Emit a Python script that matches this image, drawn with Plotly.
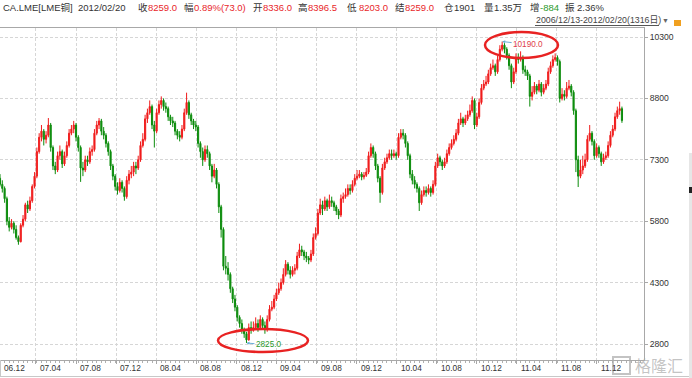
import plotly.graph_objects as go
import pandas as pd

# ---------------- data (weekly OHLC) ----------------
start_date = "2006-12-13"
opens = [
    6850,6700,6600,6350,5800,5650,5750,5600,5400,5300,
    5700,5850,6200,6100,6300,6650,6900,7500,7850,8000,
    7800,7900,8150,7600,7150,7050,7400,7500,7200,7400,
    7650,7950,8050,8150,7850,7600,7100,7050,7300,7250,
    7500,7550,7950,8150,8250,8000,7900,7700,7500,7150,
    6900,6650,6550,6750,6600,6400,6800,6950,7000,7150,
    7100,7300,7650,7800,8300,8450,8600,8150,8000,8450,
    8650,8750,8600,8550,8350,8250,8200,8000,7900,7850,
    8050,8450,8700,8400,8250,8150,8100,7700,7500,7300,
    7550,7450,7150,6900,7050,6700,6150,5600,4700,4650,
    4500,4150,3900,3700,3450,3300,3150,3050,2900,3200,
    3150,3200,3300,3200,3400,3250,3150,3400,3650,3700,
    3900,4050,4150,4300,4500,4750,4600,4500,4600,4650,
    4950,5100,5050,4950,4900,4850,5000,5400,5500,6000,
    6200,6100,6300,6150,6300,6250,6150,6050,5950,6350,
    6400,6450,6600,6550,6700,6850,6900,6950,6880,6920,
    7000,7400,7600,7450,7150,6850,6500,7100,7250,7350,
    7450,7400,7450,7400,7850,7950,7900,7700,7400,6950,
    6800,6700,6600,6250,6450,6550,6500,6600,6500,6700,
    7150,7350,7250,7150,7250,7450,7600,7700,7800,7950,
    8200,8300,8200,8300,8400,8500,8750,8150,8350,8700,
    9050,9150,9200,9400,9550,9600,9450,9750,10000,10100,
    10000,9850,9600,9200,9450,9800,9750,9800,9500,9450,
    9350,8850,8950,9100,9000,9150,8950,9050,9150,9450,
    9600,9750,9800,9700,8800,8900,8850,9050,9100,8950,
    8500,7300,6900,7050,7150,7300,7800,7950,7750,7400,
    7600,7450,7250,7350,7400,7650,7900,8050,8350,8500,
    8550,
]
highs = [
    6950,6800,6650,6400,5900,5850,5800,5700,5450,5750,
    5950,6250,6300,6400,6700,7000,7600,7950,8150,8050,
    8000,8320,8200,7650,7250,7500,7650,7550,7500,7750,
    8050,8150,8250,8200,7900,7650,7250,7400,7400,7600,
    7650,8050,8250,8320,8300,8100,7950,7750,7550,7200,
    6950,6750,6850,6800,6650,6900,7050,7150,7250,7250,
    7400,7750,7950,8400,8550,8750,8650,8250,8550,8750,
    8850,8800,8700,8600,8400,8350,8250,8050,8000,8150,
    8550,8940,8750,8450,8300,8250,8150,7750,7600,7650,
    7650,7500,7200,7200,7100,6750,6200,5650,4950,4800,
    4550,4200,4000,3750,3500,3400,3200,3100,3300,3350,
    3350,3450,3400,3500,3450,3350,3500,3750,3850,4000,
    4150,4300,4400,4650,4850,4800,4700,4700,4750,5050,
    5250,5200,5100,5050,4950,5100,5500,5650,6100,6350,
    6300,6400,6350,6450,6400,6300,6200,6100,6450,6500,
    6600,6700,6700,6800,6950,7050,7050,7000,7000,7100,
    7500,7700,7650,7500,7200,6900,7200,7350,7450,7550,
    7550,7550,7500,7950,8050,8050,7950,7750,7450,7050,
    6900,6750,6650,6550,6650,6650,6700,6650,6800,7250,
    7450,7400,7300,7350,7550,7700,7800,7900,8050,8300,
    8450,8350,8400,8500,8650,8850,8800,8450,8800,9150,
    9250,9350,9500,9650,9750,9650,9850,10100,10190,10150,
    10050,9900,9650,9550,9900,9900,9950,9850,9600,9500,
    9400,9100,9200,9150,9250,9200,9150,9250,9550,9700,
    9850,9900,9850,9750,9050,9000,9200,9250,9150,9000,
    8550,7400,7300,7400,7450,7900,8150,8000,7800,7700,
    7650,7500,7450,7500,7750,8000,8150,8450,8600,8720,
    8600,
]
lows = [
    6650,6500,6250,5700,5550,5600,5500,5350,5225,5280,
    5650,5800,6000,6050,6250,6600,6850,7450,7750,7650,
    7700,7850,7500,7050,6950,7000,7300,7100,7150,7350,
    7600,7900,7950,7750,7500,6760,6900,7000,7150,7200,
    7400,7500,7900,8050,7900,7800,7600,7400,7050,6800,
    6550,6450,6500,6500,6300,6350,6700,6850,6900,6950,
    7050,7250,7600,7750,8200,8400,8050,7600,7950,8400,
    8550,8500,8450,8250,8150,8100,7900,7800,7750,7800,
    8000,8400,8300,8150,8050,8000,7600,7350,7150,7250,
    7350,7050,6750,6850,6600,6000,5400,4600,4500,4350,
    4050,3800,3600,3350,3200,3050,2950,2825,2880,3050,
    3100,3150,3100,3150,3150,3050,3100,3350,3600,3650,
    3850,4000,4100,4250,4450,4500,4400,4450,4500,4600,
    4900,4950,4850,4800,4750,4800,4950,5350,5450,5950,
    5950,6050,6050,6100,6150,6050,5950,5850,5900,6250,
    6350,6400,6450,6500,6650,6800,6850,6800,6820,6880,
    6950,7350,7350,7050,6750,6250,6450,7050,7200,7300,
    7300,7350,7300,7350,7800,7800,7600,7300,6850,6700,
    6600,6500,6050,6200,6400,6400,6450,6400,6450,6650,
    7100,7150,7050,7100,7200,7400,7550,7650,7750,7900,
    8150,8100,8150,8250,8350,8450,8050,8100,8300,8650,
    9000,9100,9150,9350,9500,9350,9400,9700,9950,9900,
    9750,9500,9050,9150,9400,9650,9700,9400,9350,9250,
    8600,8750,8900,8900,8950,8850,8900,9000,9100,9400,
    9550,9700,9600,8700,8750,8750,8800,9000,8850,8400,
    7000,6635,6850,6950,7100,7250,7750,7650,7300,7350,
    7350,7150,7200,7300,7350,7600,7850,8000,8300,8400,
    8203,
]
closes = [
    6700,6600,6350,5800,5650,5750,5600,5400,5300,5700,
    5850,6200,6100,6300,6650,6900,7500,7850,8000,7800,
    7900,8150,7600,7150,7050,7400,7500,7200,7400,7650,
    7950,8050,8150,7850,7600,7100,7050,7300,7250,7500,
    7550,7950,8150,8250,8000,7900,7700,7500,7150,6900,
    6650,6550,6750,6600,6400,6800,6950,7000,7150,7100,
    7300,7650,7800,8300,8450,8600,8150,8000,8450,8650,
    8750,8600,8550,8350,8250,8200,8000,7900,7850,8050,
    8450,8700,8400,8250,8150,8100,7700,7500,7300,7550,
    7450,7150,6900,7050,6700,6150,5600,4700,4650,4500,
    4150,3900,3700,3450,3300,3150,3050,2900,3200,3150,
    3200,3300,3200,3400,3250,3150,3400,3650,3700,3900,
    4050,4150,4300,4500,4750,4600,4500,4600,4650,4950,
    5100,5050,4950,4900,4850,5000,5400,5500,6000,6200,
    6100,6300,6150,6300,6250,6150,6050,5950,6350,6400,
    6450,6600,6550,6700,6850,6900,6950,6880,6920,7000,
    7400,7600,7450,7150,6850,6500,7100,7250,7350,7450,
    7400,7450,7400,7850,7950,7900,7700,7400,6950,6800,
    6700,6600,6250,6450,6550,6500,6600,6500,6700,7150,
    7350,7250,7150,7250,7450,7600,7700,7800,7950,8200,
    8300,8200,8300,8400,8500,8750,8150,8350,8700,9050,
    9150,9200,9400,9550,9600,9450,9750,10000,10100,10000,
    9850,9600,9200,9450,9800,9750,9800,9500,9450,9350,
    8850,8950,9100,9000,9150,8950,9050,9150,9450,9600,
    9750,9800,9700,8800,8900,8850,9050,9100,8950,8500,
    7300,6900,7050,7150,7300,7800,7950,7750,7400,7600,
    7450,7250,7350,7400,7650,7900,8050,8350,8500,8550,
    8259,
]

x_tick_dates = ["2006-12-13", "2007-04-01", "2007-08-01", "2007-12-01", "2008-04-01",
                "2008-08-01", "2008-12-01", "2009-04-01", "2009-08-01", "2009-12-01",
                "2010-04-01", "2010-08-01", "2010-12-01", "2011-04-01", "2011-08-01",
                "2011-12-01"]
x_tick_labels = ["06.12", "07.04", "07.08", "07.12", "08.04", "08.08", "08.12", "09.04",
                 "09.08", "09.12", "10.04", "10.08", "10.12", "11.04", "11.08", "11.12"]
y_tick_values = [2800, 4300, 5800, 7300, 8800, 10300]
y_tick_labels = ["2800", "4300", "5800", "7300", "8800", "10300"]

header_texts = ["CA.LME[LME铜]", "2012/02/20", "收", "8259.0", "幅", "0.89%(73.0)", "开", "8336.0",
                "高", "8396.5", "低", "8203.0", "结", "8259.0", "仓", "1901", "量", "1.35万",
                "增", "-884", "振", "2.36%"]
header_kinds = ["t", "t", "t", "up", "t", "up", "t", "up", "t", "up", "t", "up", "t", "up",
                "t", "t", "t", "t", "t", "down", "t", "t"]
range_text = "2006/12/13-2012/02/20(1316日)"

# ---------------- styling / layout ----------------
W, H = 692, 378
ML, MR, MT, MB = 0, 48, 28, 18
PW, PH = W - ML - MR, H - MT - MB
UP, DOWN = "#f01c1c", "#0c8c0c"
FONT = "Liberation Sans, Noto Sans CJK SC, sans-serif"
GRID = "#d6d6d6"
AXIS = "#a8a8a8"


def px(x):
    return (x - ML) / PW


def py(y):
    return (H - MB - y) / PH


dates = pd.date_range(start_date, periods=len(closes), freq="7D")

fig = go.Figure(go.Candlestick(
    x=dates, open=opens, high=highs, low=lows, close=closes,
    increasing=dict(line=dict(color=UP, width=1), fillcolor=UP),
    decreasing=dict(line=dict(color=DOWN, width=1), fillcolor=DOWN),
    whiskerwidth=0, hoverinfo="skip",
))

fig.update_layout(
    width=W, height=H, margin=dict(l=ML, r=MR, t=MT, b=MB, autoexpand=False),
    paper_bgcolor="white", plot_bgcolor="white", showlegend=False,
    font=dict(family=FONT, size=10, color="#333333"),
    xaxis=dict(
        type="date", range=["2006-12-13", "2012-04-22"], rangeslider=dict(visible=False),
        tickmode="array", tickvals=x_tick_dates, ticktext=x_tick_labels,
        showticklabels=False, automargin=False,
        showgrid=True, gridcolor=GRID, griddash="3px,2px", gridwidth=1,
        ticks="outside", ticklen=3, tickcolor=AXIS,
        showline=True, linecolor=AXIS, linewidth=1, mirror=True,
        minor=dict(ticks="outside", ticklen=2, tickcolor="#b0b0b0",
                   dtick=14 * 86400000, tick0="2006-12-13", showgrid=False),
        fixedrange=True,
    ),
    yaxis=dict(
        side="right", range=[2409, 10520], tickmode="array", tickvals=y_tick_values,
        ticktext=y_tick_labels, automargin=False,
        tickfont=dict(size=8.6, color="#333333", family=FONT),
        showgrid=True, gridcolor=GRID, griddash="3px,2px", gridwidth=1,
        ticks="outside", ticklen=3, tickcolor=AXIS,
        showline=True, linecolor=AXIS, linewidth=1, mirror=True, zeroline=False,
        fixedrange=True,
    ),
)

annotations = []
# x tick labels, left-aligned next to their grid lines
for d, lab in zip(x_tick_dates, x_tick_labels):
    annotations.append(dict(text=lab, xref="x", yref="paper", x=d, y=py(368), xshift=2,
                            xanchor="left", yanchor="middle", showarrow=False,
                            font=dict(size=8.3, color="#333333", family=FONT)))
# header
header_x = [2, 77, 137, 147, 183, 193, 252, 262, 297, 307, 346, 358, 394, 404, 443, 453,
            483, 493, 529, 539, 564, 576]
kind_color = {"t": "#333333", "up": "#e8262a", "down": "#2a9a2a"}
for txt, kind, xx in zip(header_texts, header_kinds, header_x):
    annotations.append(dict(text=txt, xref="paper", yref="paper", x=px(xx), y=py(7.5),
                            xanchor="left", yanchor="middle", showarrow=False, borderpad=0,
                            font=dict(size=9.5, color=kind_color[kind], family=FONT)))
annotations.append(dict(text=range_text, xref="paper", yref="paper", x=px(535), y=py(20.5),
                        xanchor="left", yanchor="middle", showarrow=False, borderpad=0,
                        font=dict(size=8.8, color="#444444", family=FONT)))
annotations.append(dict(text="▼", xref="paper", yref="paper", x=px(661), y=py(20.5),
                        xanchor="left", yanchor="middle", showarrow=False, borderpad=0,
                        font=dict(size=7, color="#666666", family=FONT)))

# extreme markers
imax = max(range(len(highs)), key=lambda i: highs[i])
imin = min(range(len(lows)), key=lambda i: lows[i])
annotations.append(dict(x=dates[imax], y=highs[imax], xref="x", yref="y",
                        text=f"{highs[imax]:.1f}", showarrow=True, arrowhead=2, arrowsize=0.6,
                        arrowwidth=1, arrowcolor="#6aaed6", ax=26, ay=3,
                        font=dict(size=8.2, color="#e0404a", family=FONT)))
annotations.append(dict(x=dates[imin], y=lows[imin], xref="x", yref="y",
                        text=f"{lows[imin]:.1f}", showarrow=True, arrowhead=2, arrowsize=0.6,
                        arrowwidth=1, arrowcolor="#6aaed6", ax=22, ay=2,
                        font=dict(size=8.2, color="#2a9a2a", family=FONT)))
# watermark
annotations.append(dict(text="格隆汇", xref="paper", yref="paper", x=px(633), y=py(365),
                        xanchor="left", yanchor="middle", showarrow=False,
                        font=dict(size=16, color="rgba(170,170,170,0.7)",
                                  family="Noto Sans CJK SC")))

shapes = [
    # red ellipses
    dict(type="circle", xref="paper", yref="paper", x0=px(485), x1=px(558), y0=py(58), y1=py(32),
         line=dict(color="#e82222", width=2.5)),
    dict(type="circle", xref="paper", yref="paper", x0=px(218), x1=px(308), y0=py(352), y1=py(329),
         line=dict(color="#e82222", width=2.5)),
    # underline of date range
    dict(type="line", xref="paper", yref="paper", x0=px(535), x1=px(659), y0=py(25.5), y1=py(25.5),
         line=dict(color="#555555", width=1)),
    # lock icon
    dict(type="rect", xref="paper", yref="paper", x0=px(674), x1=px(681), y0=py(26), y1=py(20),
         line=dict(width=0), fillcolor="#f0a020"),
    # bottom border and left border below axis
    dict(type="line", xref="paper", yref="paper", x0=px(0), x1=px(692), y0=py(376.5), y1=py(376.5),
         line=dict(color="#c8c8c8", width=1)),
    dict(type="line", xref="paper", yref="paper", x0=px(0.5), x1=px(0.5), y0=py(360), y1=py(377),
         line=dict(color="#c8c8c8", width=1)),
    # right-side scrollbar strip
    dict(type="rect", xref="paper", yref="paper", x0=px(689), x1=px(692), y0=py(378), y1=py(153),
         line=dict(width=0), fillcolor="#e6e6e6"),
    dict(type="rect", xref="paper", yref="paper", x0=px(689), x1=px(692), y0=py(193), y1=py(187),
         line=dict(width=0), fillcolor="#222222"),
    # watermark icon
    dict(type="rect", xref="paper", yref="paper", x0=px(613), x1=px(630), y0=py(374), y1=py(357),
         line=dict(color="rgba(170,170,170,0.7)", width=2)),
]

fig.update_layout(annotations=annotations, shapes=shapes)
fig.write_html(
    "out.html",
    config={"displayModeBar": False},
    post_script="document.body.style.margin='0px';document.body.style.overflow='hidden';",
)
